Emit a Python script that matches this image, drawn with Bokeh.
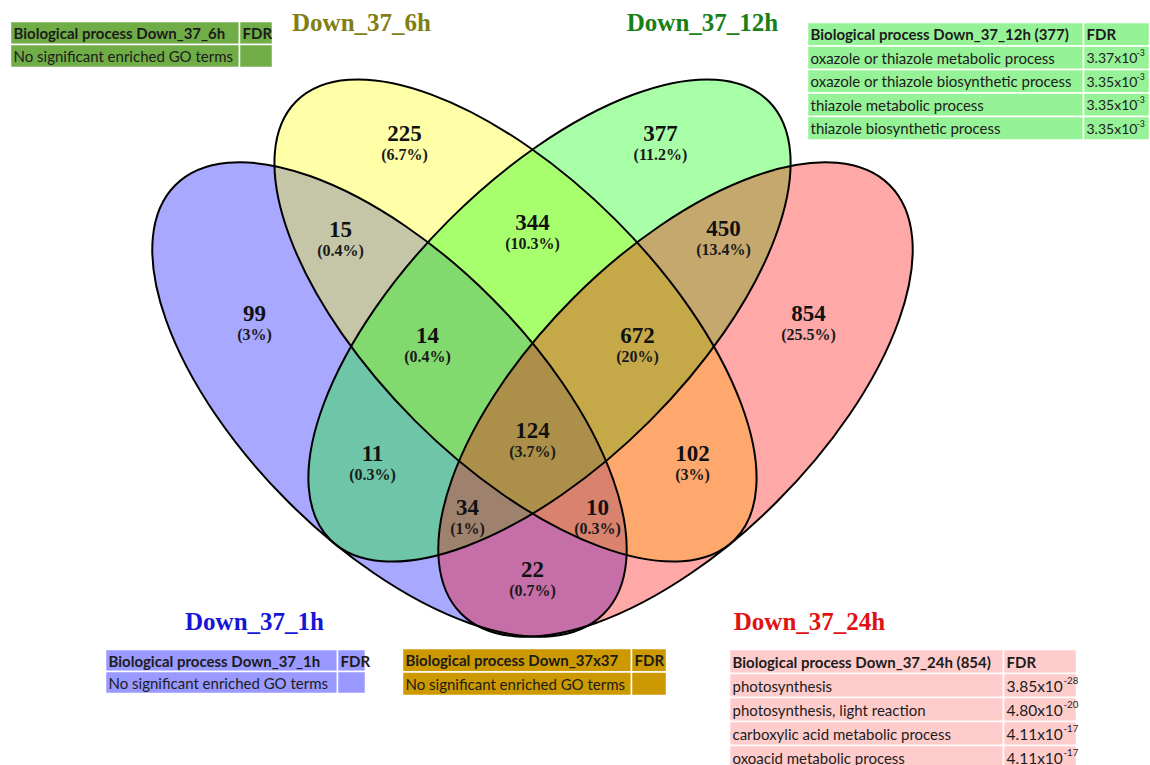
import math
from bokeh.plotting import figure
from bokeh.models import Range1d
from bokeh.embed import file_html
from bokeh.resources import INLINE
from bokeh.core.properties import value

W, H = 1150, 765

# ---------------------------------------------------------------- sets
set_names = ["Down_37_1h", "Down_37_6h", "Down_37_12h", "Down_37_24h"]
set_fills = ["#0000ff", "#ffff00", "#00ff00", "#ff0000"]
set_title_colors = ["#1616d8", "#7f7f14", "#178017", "#e01212"]

# ------------------------------------------- region counts and shares (%)
region_counts = [225, 377, 15, 344, 450, 99, 854, 14, 672, 124, 11, 102, 34, 10, 22]
region_shares = [6.7, 11.2, 0.4, 10.3, 13.4, 3, 25.5, 0.4, 20, 3.7, 0.3, 3, 1, 0.3, 0.7]

# ------------------------------------------------ GO enrichment tables
go_6h_terms = ["No significant enriched GO terms"]
go_1h_terms = ["No significant enriched GO terms"]
go_37x37_terms = ["No significant enriched GO terms"]
go_12h_terms = ["oxazole or thiazole metabolic process",
                "oxazole or thiazole biosynthetic process",
                "thiazole metabolic process",
                "thiazole biosynthetic process"]
go_12h_fdr_mant = [3.37, 3.35, 3.35, 3.35]
go_12h_fdr_exp = [-3, -3, -3, -3]
go_24h_terms = ["photosynthesis",
                "photosynthesis, light reaction",
                "carboxylic acid metabolic process",
                "oxoacid metabolic process"]
go_24h_fdr_mant = [3.85, 4.80, 4.11, 4.11]
go_24h_fdr_exp = [-28, -20, -17, -17]

# ------------------------------------------------------------- layout
# page pixels, measured from the top-left corner
ell_cx = [389, 515, 549, 675]
ell_cy = [399, 320, 320, 399]
ell_a = [303, 310, 310, 303]
ell_b = [144, 142, 142, 144]
ell_tilt = [-45, -45, 45, 45]          # degrees, counter-clockwise

lab_x = [404, 660, 340, 532, 723, 254, 808, 427, 637, 532, 372, 692, 467, 597, 532]
lab_y = [133, 133, 229, 222, 228, 313, 313, 335, 335, 430, 453, 453, 507, 507, 569]

title_x = [254, 361, 702, 809]
title_y = [621, 22, 22, 621]

SERIF = value("Liberation Serif")
SANS = value("Lato")
TABLE_FONT_SIZE = "15px"


def Y(py):
    return H - py


p = figure(width=W, height=H, x_range=Range1d(0, W), y_range=Range1d(0, H),
           output_backend="svg", toolbar_location=None, min_border=0)
p.xaxis.visible = False
p.yaxis.visible = False
p.grid.visible = False
p.outline_line_color = None
p.background_fill_color = "white"
p.border_fill_color = "white"

# ------------------------------------------------------------ ellipses
for i in range(4):
    p.ellipse(x=ell_cx[i], y=Y(ell_cy[i]), width=2 * ell_a[i], height=2 * ell_b[i],
              angle=math.radians(ell_tilt[i]), fill_color=set_fills[i],
              fill_alpha=0.34, line_color=None)
for i in range(4):
    p.ellipse(x=ell_cx[i], y=Y(ell_cy[i]), width=2 * ell_a[i], height=2 * ell_b[i],
              angle=math.radians(ell_tilt[i]), fill_color=None,
              line_color="black", line_width=2)

# ------------------------------------------------------ region labels
p.text(x=lab_x, y=[Y(v) for v in lab_y], text=[str(c) for c in region_counts],
       text_font=SERIF, text_font_style="bold", text_font_size="23px",
       text_align="center", text_baseline="middle", text_color="#111111")
p.text(x=lab_x, y=[Y(v + 21) for v in lab_y],
       text=["(%g%%)" % s for s in region_shares],
       text_font=SERIF, text_font_style="bold", text_font_size="16px",
       text_align="center", text_baseline="middle", text_color="#1a1a1a")

# ---------------------------------------------------------- set titles
p.text(x=title_x, y=[Y(v) for v in title_y], text=set_names,
       text_color=set_title_colors, text_font=SERIF, text_font_style="bold",
       text_font_size="25px", text_align="center", text_baseline="middle")


# -------------------------------------------------------------- tables
def draw_table(left, right, split, top, row_h, fill, header, terms,
               mant=None, expo=None, fdr_size=15.5, exp_dx=60):
    n = len(terms) + 1
    tops = [top + k * row_h for k in range(n)]
    lefts, rights, qt, qb = [], [], [], []
    for t in tops:
        lefts += [left, split]
        rights += [split, right]
        qt += [Y(t), Y(t)]
        qb += [Y(t + row_h), Y(t + row_h)]
    p.quad(left=lefts, right=rights, top=qt, bottom=qb, fill_color=fill,
           line_color="white", line_width=1.5)
    mids = [t + row_h / 2 for t in tops]
    p.text(x=[left + 3, split + 3], y=[Y(mids[0]), Y(mids[0])],
           text=[header, "FDR"], text_font=SANS, text_font_style="bold",
           text_font_size=TABLE_FONT_SIZE, text_baseline="middle", text_color="#1c1c1c")
    p.text(x=[left + 3] * len(terms), y=[Y(m) for m in mids[1:]], text=terms,
           text_font=SANS, text_font_size=TABLE_FONT_SIZE, text_baseline="middle",
           text_color="#1c1c1c")
    if mant:
        p.text(x=[split + 3] * len(mant), y=[Y(m) for m in mids[1:]],
               text=["%.2fx10" % m for m in mant], text_font=SANS,
               text_font_size="%gpx" % fdr_size, text_baseline="middle",
               text_color="#1c1c1c")
        p.text(x=[split + exp_dx] * len(expo), y=[Y(m - 5) for m in mids[1:]],
               text=[str(e) for e in expo], text_font=SANS,
               text_font_size="%gpx" % (fdr_size * 0.62), text_baseline="middle",
               text_color="#1c1c1c")


draw_table(10, 272, 239, 21, 23, "#70AD47", "Biological  process Down_37_6h", go_6h_terms)
draw_table(807, 1149, 1083, 22, 23.5, "#96F296",
           "Biological  process Down_37_12h (%d)" % region_counts[1],
           go_12h_terms, go_12h_fdr_mant, go_12h_fdr_exp, fdr_size=14, exp_dx=53)
draw_table(105, 365, 337, 649, 22, "#9999FF", "Biological  process Down_37_1h", go_1h_terms)
draw_table(402, 666, 631, 648, 23.5, "#CC9900", "Biological  process Down_37x37", go_37x37_terms)
draw_table(729, 1076, 1003, 649, 24, "#FFCCCC",
           "Biological  process Down_37_24h (%d)" % region_counts[6],
           go_24h_terms, go_24h_fdr_mant, go_24h_fdr_exp)

open("out.html", "w").write(file_html(p, INLINE))
